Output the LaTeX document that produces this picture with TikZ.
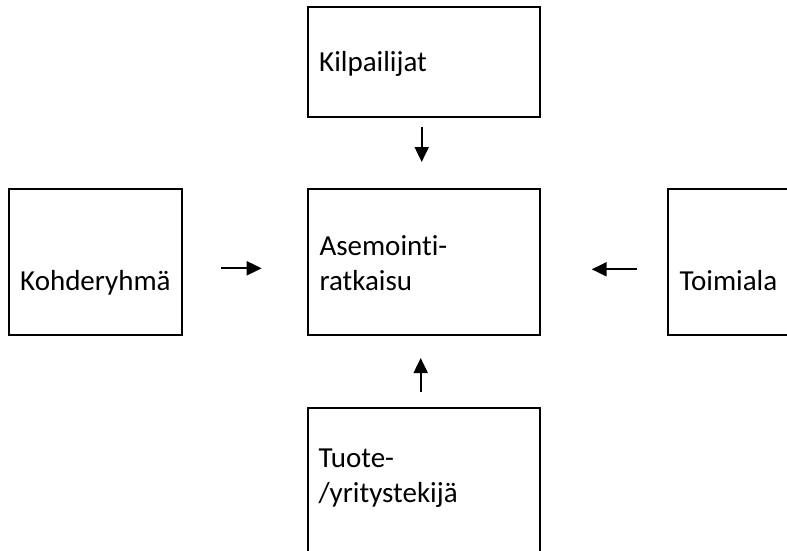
\documentclass[tikz,border=0pt]{standalone}
\usepackage{fontspec}
\setmainfont{Carlito}[Ligatures={NoCommon,NoContextual}]
\usetikzlibrary{arrows.meta}
\begin{document}
\begin{tikzpicture}[x=1pt,y=-1pt,
  box/.style={draw=black,line width=2pt,inner sep=0pt},
  lbl/.style={anchor=base west,inner sep=0pt,align=left,
    font=\fontsize{29pt}{35.5pt}\selectfont},
  flow/.style={line width=2pt,-{Triangle[length=15pt,width=14pt]}}]
\useasboundingbox (0,0) rectangle (787,551);
\clip (0,0) rectangle (787,551);
% boxes
\node[box,minimum width=232pt,minimum height=109.4pt] (kil) at (424.4,62) {};
\node[box,minimum width=231.7pt,minimum height=145.7pt] (ase) at (424.2,262.2) {};
\node[box,minimum width=172.4pt,minimum height=145.7pt] (koh) at (95.5,262.2) {};
\node[box,minimum width=172.4pt,minimum height=145.7pt] (toi) at (753.9,262.2) {};
\node[box,minimum width=231.7pt,minimum height=145.7pt] (tuo) at (424.2,481.2) {};
% texts (multi-line labels are placed by the baseline of their last line)
\node[lbl] (tkil) at (319,71.7) {Kilpailijat};
\node[lbl] (tase) at (319.3,290.7) {Asemointi-\\ratkaisu};
\node[lbl] (tkoh) at (20,290) {Kohderyhmä};
\node[lbl] (ttoi) at (679.3,290) {Toimiala};
\node[lbl] (ttuo) at (318.3,502.5) {Tuote-\\/yritystekijä};
% arrow ends
\coordinate (d1) at (421.7,127);
\coordinate (d2) at (421.7,162);
\coordinate (r1) at (220.7,268.3);
\coordinate (r2) at (261.7,268.3);
\coordinate (l1) at (636.7,269.3);
\coordinate (l2) at (591.7,269.3);
\coordinate (u1) at (420.7,391.7);
\coordinate (u2) at (420.7,358);
\draw[flow] (d1) -- (d2);
\draw[flow] (r1) -- (r2);
\draw[flow] (l1) -- (l2);
\draw[flow] (u1) -- (u2);
\end{tikzpicture}
\end{document}
